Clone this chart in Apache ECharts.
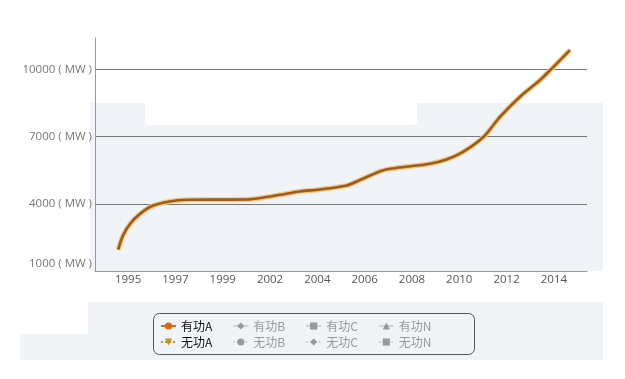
<!DOCTYPE html>
<html>
<head>
<meta charset="utf-8">
<script src="https://cdn.jsdelivr.net/npm/echarts@6/dist/echarts.min.js"></script>
<style>
html,body{margin:0;padding:0;background:#fff;}
#c{width:625px;height:379px;}
</style>
</head>
<body>
<div id="c"></div>
<script>
// ---- data ----
var yearLabels = ['1995','1997','1999','2002','2004','2006','2008','2010','2012','2014'];
var tickPos = [0,1,2,3,4,5,6,7,8,9];
// x positions in label-slot units (0 = "1995", 9 = "2014")
var xPos = [-0.21,-0.11,0.04,0.25,0.53,1.02,1.37,2.0,2.5,2.93,3.21,3.63,4.05,4.62,4.96,5.38,5.67,6.38,6.73,7.08,7.51,7.86,8.28,8.7,8.99,9.34];
var activeA = [1950,2580,3100,3550,3920,4150,4180,4185,4190,4300,4400,4550,4640,4820,5120,5490,5600,5790,5980,6320,6980,7880,8770,9510,10110,10860];
var reactiveA = activeA.slice();
var activeB = [], reactiveB = [], activeC = [], reactiveC = [], activeN = [], reactiveN = [];
var yTicks = { min: 1000, max: 11400, step: 3000 };
var unit = ' ( MW )';

function pairs(xs, ys){ return ys.map(function(v,i){ return [xs[i], v]; }); }

var chart = echarts.init(document.getElementById('c'));
var grey = '#999';
var baseFont = 'Open Sans';
var cjk = '"Noto Sans CJK SC"';

function hiddenSeries(name, data, symbol){
  return { name: name, type: 'line', data: data, symbol: symbol, showSymbol: false,
           itemStyle: { color: grey }, lineStyle: { color: grey } };
}

var option = {
  animation: false,
  backgroundColor: '#fff',
  graphic: [
    { type: 'rect', z: -10, shape: { x: 90, y: 103, width: 513, height: 168 }, style: { fill: '#f0f4f8' } },
    { type: 'rect', z: -9, shape: { x: 145, y: 100, width: 272, height: 25, r: 4 }, style: { fill: '#ffffff' } },
    { type: 'rect', z: -10, shape: { x: 88, y: 302, width: 515, height: 58 }, style: { fill: '#f0f4f7' } },
    { type: 'rect', z: -10, shape: { x: 20, y: 334, width: 70, height: 26 }, style: { fill: '#f0f4f7' } },
    { type: 'rect', z: 5, shape: { x: 153.5, y: 313.5, width: 321, height: 41, r: 6 }, style: { fill: 'rgba(0,0,0,0)', stroke: '#555', lineWidth: 1 } }
  ],
  grid: { left: 95, right: 38, top: 38, bottom: 108 },
  legend: [
    {
      left: 160, top: 320, padding: 0, itemGap: 20, itemWidth: 15, itemHeight: 9,
      inactiveColor: grey,
      textStyle: { fontSize: 12, color: '#111', fontFamily: cjk },
      data: [
        { name: '有功A', itemStyle: { color: '#e0650f' }, lineStyle: { color: '#e0650f', width: 2 } },
        '有功B', '有功C', '有功N'
      ],
      selected: { '有功B': false, '有功C': false, '有功N': false }
    },
    {
      left: 160, top: 336, padding: 0, itemGap: 20, itemWidth: 15, itemHeight: 9,
      inactiveColor: grey,
      textStyle: { fontSize: 12, color: '#111', fontFamily: cjk },
      data: [
        { name: '无功A', itemStyle: { color: '#c8901e' }, lineStyle: { color: '#c8901e', width: 2, type: 'dotted' } },
        { name: '无功B', lineStyle: { type: 'dotted' } },
        { name: '无功C', lineStyle: { type: 'dotted' } },
        { name: '无功N', lineStyle: { type: 'dotted' } }
      ],
      selected: { '无功B': false, '无功C': false, '无功N': false }
    }
  ],
  xAxis: {
    type: 'value', min: -0.7, max: 9.7,
    axisLine: { show: true, onZero: false, lineStyle: { color: '#999' } },
    axisTick: { show: false },
    splitLine: { show: false },
    axisLabel: {
      customValues: tickPos, margin: 3, color: '#555', fontSize: 11.5, fontFamily: baseFont,
      formatter: function (v) { return yearLabels[Math.round(v)]; }
    }
  },
  yAxis: {
    type: 'value', min: yTicks.min, max: yTicks.max, interval: yTicks.step,
    axisLine: { show: true, onZero: false, lineStyle: { color: '#999' } },
    axisTick: { show: false },
    splitLine: { show: true, showMinLine: false, showMaxLine: false, lineStyle: { color: '#777', width: 1 } },
    axisLabel: {
      showMaxLabel: false, margin: 3, color: '#777', fontSize: 11.5, fontFamily: baseFont,
      formatter: function (v) {
        if (v === yTicks.min) return '{m|' + v + unit + '}';
        return v + unit;
      },
      rich: { m: { padding: [0, 0, 14, 0], color: '#777', fontSize: 11.5, fontFamily: baseFont } }
    }
  },
  series: [
    { name: '有功A', type: 'line', data: pairs(xPos, activeA), smooth: 0.3, symbol: 'circle', showSymbol: false,
      itemStyle: { color: '#e0650f' }, lineStyle: { color: '#f5c680', width: 5 }, z: 2 },
    { name: '无功A', type: 'line', data: pairs(xPos, reactiveA), smooth: 0.3, symbol: 'triangle', symbolRotate: 180, showSymbol: false,
      itemStyle: { color: '#c8901e' }, lineStyle: { color: '#9c5c1c', width: 2.6 }, z: 3 },
    hiddenSeries('有功B', activeB, 'diamond'),
    hiddenSeries('无功B', reactiveB, 'circle'),
    hiddenSeries('有功C', activeC, 'rect'),
    hiddenSeries('无功C', reactiveC, 'diamond'),
    hiddenSeries('有功N', activeN, 'triangle'),
    hiddenSeries('无功N', reactiveN, 'rect')
  ]
};
chart.setOption(option);
</script>
</body>
</html>
